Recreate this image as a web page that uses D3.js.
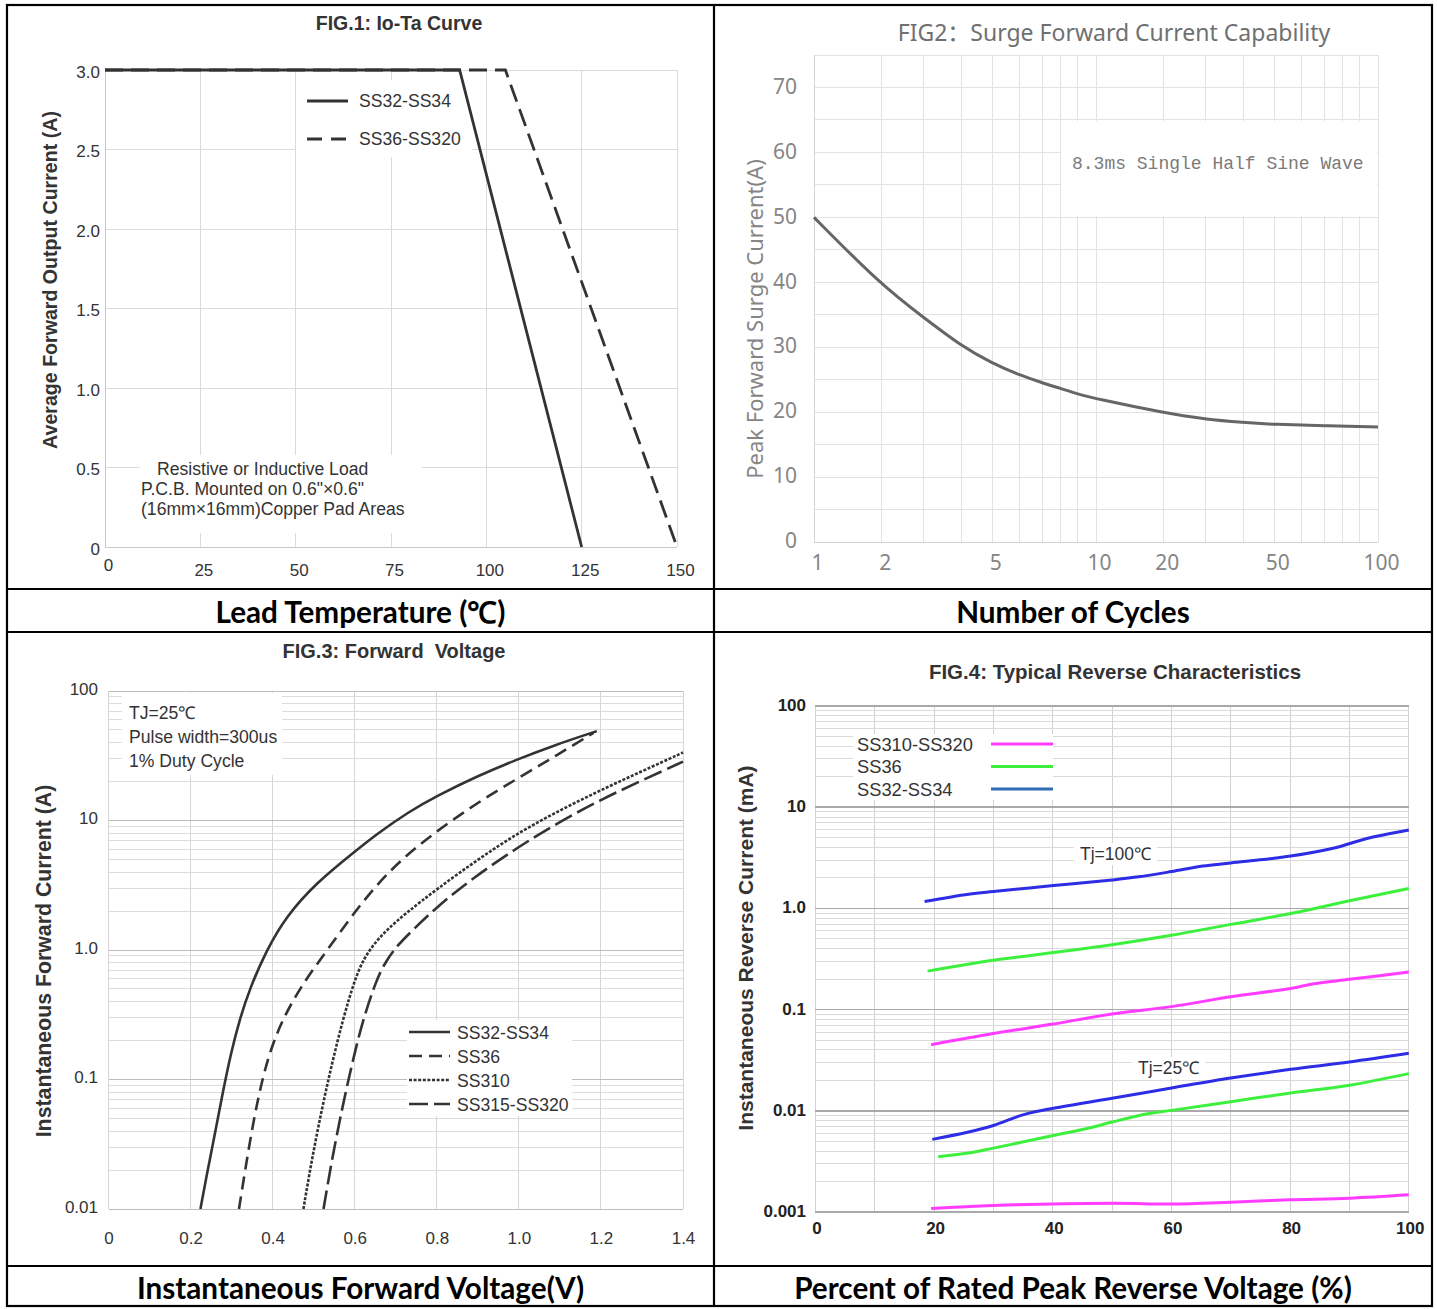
<!DOCTYPE html>
<html>
<head>
<meta charset="utf-8">
<script src="https://cdn.jsdelivr.net/npm/d3@7"></script>
<style>
  body { margin: 0; background: #fff; }
  text { white-space: pre; }
</style>
</head>
<body>
<div id="chart"></div>
<script>
// --------------------------------------------
// DATA
// --------------------------------------------

// FIG.1 Io-Ta : [temperature, current]
const ioTaSS32 = [[0, 3], [93, 3], [125, 0]];
const ioTaSS36 = [[0, 3], [105, 3], [150, 0]];
const fig1XTicks = [0, 25, 50, 75, 100, 125, 150];
const fig1YTicks = [0, 0.5, 1, 1.5, 2, 2.5, 3];
const fig1YLabels = ["0", "0.5", "1.0", "1.5", "2.0", "2.5", "3.0"];
const fig1Note = ["Resistive or Inductive Load", "P.C.B. Mounted on 0.6\"×0.6\"", "(16mm×16mm)Copper Pad Areas"];

// FIG2 surge
const surgeCycles = [1, 2, 3, 4, 5, 6, 7, 8, 9, 10, 20, 30, 40, 50, 70, 100];
const surgeCurrent = [50, 39.5, 34.6, 30.2, 27.5, 25.7, 24.5, 23.65, 22.8, 22.05, 19.9, 18.9, 18.4, 18.1, 17.9, 17.7];
const fig2XTicks = [1, 2, 5, 10, 20, 50, 100];
const fig2XGrid = [1, 2, 3, 4, 5, 6, 7, 8, 9, 10, 20, 30, 40, 50, 60, 70, 80, 90, 100];
const fig2YTicks = [0, 10, 20, 30, 40, 50, 60, 70];

// FIG.3 forward voltage : [V, A]
const vfSS32 = [[0.224, 0.01], [0.243, 0.021], [0.26, 0.039], [0.278, 0.078], [0.298, 0.158], [0.32, 0.295],
  [0.345, 0.51], [0.384, 0.98], [0.433, 1.82], [0.506, 3.3], [0.6, 5.75], [0.652, 7.8], [0.734, 11.8],
  [0.8, 15.5], [0.9, 22.1], [0.994, 29.5], [1.09, 38.5], [1.19, 49]];
const vfSS36 = [[0.318, 0.01], [0.335, 0.0219], [0.355, 0.0513], [0.376, 0.105], [0.4, 0.19], [0.43, 0.316],
  [0.47, 0.525], [0.51, 0.794], [0.565, 1.38], [0.63, 2.63], [0.709, 4.9], [0.8, 8.3], [0.9, 13.8],
  [1.0, 21.4], [1.09, 31.6], [1.182, 47.5]];
const vfSS310 = [[0.475, 0.01], [0.494, 0.0227], [0.518, 0.0553], [0.543, 0.127], [0.571, 0.29], [0.6, 0.59],
  [0.62, 0.83], [0.645, 1.1], [0.68, 1.45], [0.727, 1.95], [0.8, 2.95], [0.9, 5.0], [1.0, 8.1], [1.1, 12],
  [1.2, 17.2], [1.3, 24], [1.4, 33.5]];
const vfSS315 = [[0.524, 0.01], [0.543, 0.0227], [0.567, 0.0553], [0.592, 0.127], [0.62, 0.29], [0.653, 0.59],
  [0.675, 0.81], [0.702, 1.07], [0.74, 1.41], [0.799, 2.14], [0.89, 3.63], [1.0, 6.3], [1.1, 9.8], [1.2, 14.5],
  [1.3, 20.4], [1.4, 28.5]];
const fig3Series = ["SS32-SS34", "SS36", "SS310", "SS315-SS320"];
const fig3XTicks = [0, 0.2, 0.4, 0.6, 0.8, 1.0, 1.2, 1.4];
const fig3XLabels = ["0", "0.2", "0.4", "0.6", "0.8", "1.0", "1.2", "1.4"];
const fig3YTicks = [0.01, 0.1, 1, 10, 100];
const fig3YLabels = ["0.01", "0.1", "1.0", "10", "100"];
const fig3Note = ["TJ=25℃", "Pulse width=300us", "1% Duty Cycle"];

// FIG.4 reverse : [% of VRRM, mA]
const irHotSS32 = [[18.4, 1.17], [25.8, 1.38], [30, 1.47], [40.1, 1.68], [50, 1.91], [54.5, 2.05], [60, 2.31],
  [65.3, 2.62], [70, 2.81], [80.1, 3.29], [87.8, 4.0], [92.5, 4.83], [100, 5.94]];
const irHotSS36 = [[18.9, 0.24], [30, 0.307], [40.1, 0.366], [50, 0.438], [60, 0.543], [70, 0.695],
  [80.1, 0.889], [90, 1.19], [100, 1.57]];
const irHotSS310 = [[19.5, 0.045], [30, 0.058], [40.1, 0.072], [50, 0.0906], [60, 0.107], [70, 0.134],
  [80.1, 0.162], [84, 0.18], [90, 0.199], [100, 0.235]];
const irColdSS32 = [[19.7, 0.00522], [25.8, 0.00618], [30, 0.00716], [35.1, 0.00916], [40.1, 0.0106], [50, 0.0133],
  [60, 0.0168], [70, 0.0211], [80.1, 0.0257], [90, 0.0304], [100, 0.037]];
const irColdSS36 = [[20.7, 0.00352], [26.1, 0.00385], [30, 0.00428], [40.1, 0.0057], [46.3, 0.0068], [50, 0.00774],
  [56, 0.00933], [60, 0.0101], [70, 0.0123], [80.1, 0.015], [90, 0.0179], [100, 0.0233]];
const irColdSS310 = [[19.5, 0.00108], [30, 0.00116], [50, 0.00122], [60, 0.0012], [70, 0.00125], [80, 0.00132],
  [90, 0.00137], [100, 0.00148]];
const fig4Series = ["SS310-SS320", "SS36", "SS32-SS34"];
const fig4XGrid = [0, 10, 20, 30, 40, 50, 60, 70, 80, 90, 100];
const fig4XTicks = [0, 20, 40, 60, 80, 100];
const fig4YTicks = [0.001, 0.01, 0.1, 1, 10, 100];
const fig4YLabels = ["0.001", "0.01", "0.1", "1.0", "10", "100"];

// --------------------------------------------
// HELPERS
// --------------------------------------------
const ARIAL = "'Liberation Sans', Arial, sans-serif";
const W = 1437, H = 1309;

const svg = d3.select("#chart").append("svg")
  .attr("width", W).attr("height", H)
  .style("background", "#fff");

const gridV = (g, x, values, y0, y1, color, width = 1) =>
  g.append("g").selectAll("line").data(values).join("line")
    .attr("x1", (d) => x(d)).attr("x2", (d) => x(d))
    .attr("y1", y0).attr("y2", y1)
    .attr("stroke", color).attr("stroke-width", width)
    .attr("shape-rendering", "crispEdges");

const gridH = (g, y, values, x0, x1, color, width = 1) =>
  g.append("g").selectAll("line").data(values).join("line")
    .attr("y1", (d) => y(d)).attr("y2", (d) => y(d))
    .attr("x1", x0).attr("x2", x1)
    .attr("stroke", typeof color === "function" ? (d) => color(d) : color)
    .attr("stroke-width", typeof width === "function" ? (d) => width(d) : width)
    .attr("shape-rendering", "crispEdges");

const whiteBox = (g, x, y, w, h) =>
  g.append("rect").attr("x", x).attr("y", y).attr("width", w).attr("height", h).attr("fill", "#fff");

const styleAxis = (axisG, font, size, color, weight = "normal") => {
  axisG.select(".domain").remove();
  axisG.selectAll("line").remove();
  axisG.selectAll("text")
    .attr("fill", color)
    .style("font-family", font)
    .style("font-size", size + "px")
    .style("font-weight", weight);
  return axisG;
};

const label = (g, txt, x, y, opts = {}) =>
  g.append("text").text(txt)
    .attr("x", x).attr("y", y)
    .attr("text-anchor", opts.anchor || "start")
    .attr("transform", opts.rotate ? `rotate(-90,${x},${y})` : null)
    .attr("fill", opts.color || "#333")
    .style("font-family", opts.font || ARIAL)
    .style("font-size", (opts.size || 17) + "px")
    .style("font-weight", opts.weight || "normal");

// decade minor lines 1..9 for log scales
const logGrid = (lo, hi) => {
  const out = [];
  for (let e = Math.log10(lo); e < Math.log10(hi); e++) {
    for (let m = 1; m < 10; m++) out.push(m * Math.pow(10, e));
  }
  out.push(hi);
  return out.map((d) => +d.toPrecision(3));
};
const isDecade = (d) => Math.abs(Math.log10(d) - Math.round(Math.log10(d))) < 1e-6;

// smooth drawn curves (fig2, fig3) ; fig4 keeps the little bends of the original
const smooth = d3.curveBasis;
const bendy = d3.curveCatmullRom.alpha(0.5);

// --------------------------------------------
// FIG.1
// --------------------------------------------
{
  const g = svg.append("g");
  const x = d3.scaleLinear().domain([0, 150]).range([105, 677]);
  const y = d3.scaleLinear().domain([0, 3]).range([547, 70]);

  gridV(g, x, fig1XTicks, y(0), y(3), "#dadada");
  gridH(g, y, fig1YTicks, x(0), x(150), "#dadada");
  gridV(g, x, [0], y(0), y(3), "#c8c8c8");
  gridH(g, y, [0], x(0), x(150), "#c8c8c8");

  whiteBox(g, 140, 455, 282, 78);
  whiteBox(g, 296, 80, 176, 77);

  const line = d3.line().x((d) => x(d[0])).y((d) => y(d[1]));
  g.append("path").datum(ioTaSS36).attr("d", line)
    .attr("fill", "none").attr("stroke", "#333").attr("stroke-width", 2.8).attr("stroke-dasharray", "18,8");
  g.append("path").datum(ioTaSS32).attr("d", line)
    .attr("fill", "none").attr("stroke", "#333").attr("stroke-width", 2.8);

  // legend
  const leg = [["SS32-SS34", null, 101], ["SS36-SS320", "15,9", 139]];
  leg.forEach(([name, dash, ly]) => {
    g.append("line").attr("x1", 307).attr("x2", 348).attr("y1", ly).attr("y2", ly)
      .attr("stroke", "#333").attr("stroke-width", 2.8).attr("stroke-dasharray", dash);
    label(g, name, 359, ly + 6, { size: 17.6 });
  });

  fig1Note.forEach((t, i) => label(g, t, i === 0 ? 157 : 141, 475 + i * 20, { size: 17.6 }));

  const ax = g.append("g").attr("transform", "translate(103,2)")
    .call(d3.axisLeft(y).tickValues(fig1YTicks).tickFormat((d, i) => fig1YLabels[i]).tickSize(0).tickPadding(3));
  styleAxis(ax, ARIAL, 17, "#333");
  const bx = g.append("g").attr("transform", `translate(3,${y(0)})`)
    .call(d3.axisBottom(x).tickValues(fig1XTicks).tickSize(0).tickPadding(17));
  styleAxis(bx, ARIAL, 17, "#333");
  bx.selectAll("text").filter((d) => d === 0).attr("y", 12);

  label(g, "FIG.1: Io-Ta Curve", 399, 30, { anchor: "middle", weight: "bold", size: 19.5 });
  label(g, "Average Forward Output Current (A)", 57, 280, { anchor: "middle", weight: "bold", size: 19.6, rotate: true });
}

// --------------------------------------------
// FIG2
// --------------------------------------------
{
  const g = svg.append("g");
  const FONT2 = "'Noto Sans', 'Noto Sans CJK SC', sans-serif";
  const x0 = 814, x1 = 1378;
  // the printed cycle axis is not a true log axis: gridline spacing inside a decade, as drawn
  const inDecade = [0, 0.24, 0.388, 0.5215, 0.632, 0.729, 0.81, 0.874, 0.935];
  const stops = [...inDecade, ...inDecade.map((f) => 1 + f), 2];
  const x = d3.scaleLog().domain(fig2XGrid).range(stops.map((f) => x0 + (f / 2) * (x1 - x0)));
  const y = d3.scaleLinear().domain([0, 75]).range([542, 55]);

  gridV(g, x, fig2XGrid, y(0), y(75), "#e2e2e2");
  gridH(g, y, d3.range(0, 80, 5), x0, x1, "#e2e2e2");
  gridV(g, x, [1], y(0), y(75), "#d4d4d4");
  gridH(g, y, [0], x0, x1, "#d4d4d4");

  whiteBox(g, 1061, 121, 316, 95);
  label(g, "8.3ms Single Half Sine Wave", 1072, 169, { font: "'Liberation Mono', monospace", size: 18, color: "#7a7a7a" });

  const line = d3.line().curve(smooth)
    .x((d, i) => x(surgeCycles[i])).y((d) => y(d));
  g.append("path").datum(surgeCurrent).attr("d", line)
    .attr("fill", "none").attr("stroke", "#666").attr("stroke-width", 3);

  const ax = g.append("g").attr("transform", "translate(800,-1)")
    .call(d3.axisLeft(y).tickValues(fig2YTicks).tickSize(0).tickPadding(3));
  styleAxis(ax, FONT2, 21, "#858585");
  const bx = g.append("g").attr("transform", `translate(3,${y(0) + 11})`)
    .call(d3.axisBottom(x).tickValues(fig2XTicks).tickFormat(d3.format("d")).tickSize(0).tickPadding(2));
  styleAxis(bx, FONT2, 21, "#858585");

  label(g, "FIG2：Surge Forward Current Capability", 1114, 41, { anchor: "middle", font: FONT2, size: 23, color: "#707070" });
  label(g, "Peak Forward Surge Current(A)", 763, 319, { anchor: "middle", font: FONT2, size: 22, color: "#858585", rotate: true });
}

// --------------------------------------------
// FIG.3
// --------------------------------------------
{
  const g = svg.append("g");
  const x = d3.scaleLinear().domain([0, 1.4]).range([108.5, 683]);
  const y = d3.scaleLog().domain([0.01, 100]).range([1209, 691]);

  gridV(g, x, fig3XTicks, y(0.01), y(100), "#d6d6d6");
  gridH(g, y, logGrid(0.01, 100), x(0), x(1.4), (d) => (isDecade(d) ? "#bdbdbd" : "#dcdcdc"));

  whiteBox(g, 122, 693, 160, 82);
  fig3Note.forEach((t, i) => label(g, t, 129, 719 + i * 24, { size: 17.6 }));
  whiteBox(g, 407, 1020, 165, 96);

  const line = d3.line().curve(smooth).x((d) => x(d[0])).y((d) => y(d[1]));
  const series = [vfSS32, vfSS36, vfSS310, vfSS315];
  const dashes = [null, "13,7", "3,1.6", "19,6"];
  series.forEach((s, i) => {
    g.append("path").datum(s).attr("d", line)
      .attr("fill", "none").attr("stroke", "#333").attr("stroke-width", 2.6)
      .attr("stroke-dasharray", dashes[i]);
  });

  fig3Series.forEach((name, i) => {
    const ly = 1032 + i * 24;
    g.append("line").attr("x1", 409).attr("x2", 450).attr("y1", ly).attr("y2", ly)
      .attr("stroke", "#333").attr("stroke-width", 2.6).attr("stroke-dasharray", dashes[i]);
    label(g, name, 457, ly + 7, { size: 17.6 });
  });

  const ax = g.append("g").attr("transform", "translate(101,-2)")
    .call(d3.axisLeft(y).tickValues(fig3YTicks).tickFormat((d, i) => fig3YLabels[i]).tickSize(0).tickPadding(3));
  styleAxis(ax, ARIAL, 17, "#333");
  const bx = g.append("g").attr("transform", `translate(0,${y(0.01)})`)
    .call(d3.axisBottom(x).tickValues(fig3XTicks).tickFormat((d, i) => fig3XLabels[i]).tickSize(0).tickPadding(23));
  styleAxis(bx, ARIAL, 17, "#333");

  label(g, "FIG.3: Forward  Voltage", 394, 658, { anchor: "middle", weight: "bold", size: 20 });
  label(g, "Instantaneous Forward Current (A)", 51, 961, { anchor: "middle", weight: "bold", size: 21.3, rotate: true });
}

// --------------------------------------------
// FIG.4
// --------------------------------------------
{
  const g = svg.append("g");
  const x = d3.scaleLinear().domain([0, 100]).range([815.4, 1408.8]);
  const y = d3.scaleLog().domain([0.001, 100]).range([1212, 706]);

  gridV(g, x, fig4XGrid, y(0.001), y(100), "#d2d2d2");
  gridH(g, y, logGrid(0.001, 100), x(0), x(100), (d) => (isDecade(d) ? "#a9a9a9" : "#dadada"),
    (d) => (isDecade(d) ? 1.6 : 1));

  whiteBox(g, 853, 734, 200, 66);

  const colors = { SS310: "#ff3cff", SS36: "#3ef03e", SS32: "#2d2de6" };
  const line = d3.line().curve(bendy).x((d) => x(d[0])).y((d) => y(d[1]));
  const series = [
    [irHotSS32, colors.SS32], [irHotSS36, colors.SS36], [irHotSS310, colors.SS310],
    [irColdSS32, colors.SS32], [irColdSS36, colors.SS36], [irColdSS310, colors.SS310],
  ];
  series.forEach(([s, c]) => {
    g.append("path").datum(s).attr("d", line)
      .attr("fill", "none").attr("stroke", c).attr("stroke-width", 3);
  });

  const legendColors = [colors.SS310, colors.SS36, "#2f6db5"];
  fig4Series.forEach((name, i) => {
    const ly = 744 + i * 22.5;
    g.append("line").attr("x1", 991).attr("x2", 1053).attr("y1", ly).attr("y2", ly)
      .attr("stroke", legendColors[i]).attr("stroke-width", 3);
    label(g, name, 857, ly + 6.5, { size: 18.3 });
  });

  // temperature tags
  [["Tj=100℃", 1080, 860], ["Tj=25℃", 1138, 1074]].forEach(([t, tx, ty]) => {
    const rect = g.append("rect").attr("fill", "#fff");
    const txt = label(g, t, tx, ty, { size: 17.5 });
    const bb = txt.node().getBBox();
    rect.attr("x", bb.x - 6).attr("y", bb.y - 1).attr("width", bb.width + 12).attr("height", bb.height + 2);
  });

  const ax = g.append("g").attr("transform", "translate(809,-1)")
    .call(d3.axisLeft(y).tickValues(fig4YTicks).tickFormat((d, i) => fig4YLabels[i]).tickSize(0).tickPadding(3));
  styleAxis(ax, ARIAL, 17, "#222", "bold");
  const bx = g.append("g").attr("transform", `translate(1,${y(0.001)})`)
    .call(d3.axisBottom(x).tickValues(fig4XTicks).tickSize(0).tickPadding(10));
  styleAxis(bx, ARIAL, 17, "#222", "bold");

  label(g, "FIG.4: Typical Reverse Characteristics", 1115, 679, { anchor: "middle", weight: "bold", size: 20.5 });
  label(g, "Instantaneous Reverse Current (mA)", 753, 948, { anchor: "middle", weight: "bold", size: 21, rotate: true });
}

// --------------------------------------------
// TABLE FRAME + CAPTIONS
// --------------------------------------------
{
  const frame = svg.append("g").attr("stroke", "#000").attr("stroke-width", 2.2).attr("fill", "none");
  frame.append("rect").attr("x", 7).attr("y", 5).attr("width", 1425).attr("height", 1301);
  [589, 632, 1266].forEach((yy) =>
    frame.append("line").attr("x1", 7).attr("x2", 1432).attr("y1", yy).attr("y2", yy));
  frame.append("line").attr("x1", 714).attr("x2", 714).attr("y1", 5).attr("y2", 1306);

  const CAP = "Lato, 'Open Sans', sans-serif";
  const captions = [
    ["Lead Temperature (℃)", 360.5, 623],
    ["Number of Cycles", 1073, 623],
    ["Instantaneous Forward Voltage(V)", 360.5, 1299],
    ["Percent of Rated Peak Reverse Voltage (%)", 1073, 1299],
  ];
  captions.forEach(([t, cx, cy]) =>
    label(svg, t, cx, cy, { anchor: "middle", font: CAP, size: 29.7, weight: "bold", color: "#000" }));
}
</script>
</body>
</html>
